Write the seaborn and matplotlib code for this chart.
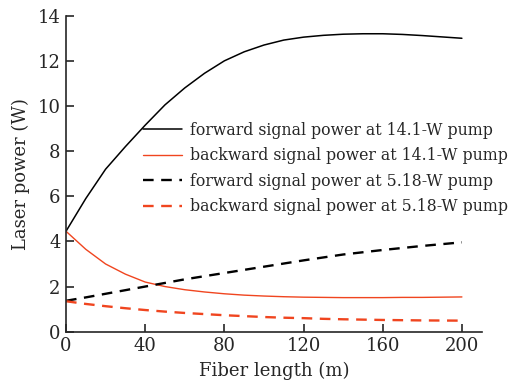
import matplotlib
matplotlib.use("Agg")
import matplotlib.pyplot as plt
import seaborn as sns
import pandas as pd

fiber_length = [0, 10, 20, 30, 40, 50, 60, 70, 80, 90, 100,
                110, 120, 130, 140, 150, 160, 170, 180, 190, 200]
fwd_14 = [4.45, 5.9, 7.2, 8.2, 9.15, 10.05, 10.8, 11.45, 12.0, 12.4, 12.7,
          12.92, 13.05, 13.13, 13.18, 13.2, 13.2, 13.17, 13.12, 13.06, 13.0]
bwd_14 = [4.45, 3.65, 3.0, 2.55, 2.2, 2.0, 1.86, 1.76, 1.68, 1.62, 1.58,
          1.55, 1.53, 1.52, 1.51, 1.51, 1.51, 1.52, 1.52, 1.53, 1.54]
fwd_518 = [1.37, 1.52, 1.68, 1.84, 2.0, 2.16, 2.32, 2.46, 2.6, 2.74, 2.88,
           3.02, 3.16, 3.29, 3.42, 3.52, 3.62, 3.71, 3.8, 3.88, 3.96]
bwd_518 = [1.35, 1.23, 1.13, 1.04, 0.96, 0.89, 0.83, 0.78, 0.73, 0.69, 0.65,
           0.62, 0.6, 0.57, 0.55, 0.535, 0.52, 0.51, 0.5, 0.495, 0.49]
labels = ["forward signal power at 14.1-W pump",
          "backward signal power at 14.1-W pump",
          "forward signal power at 5.18-W pump",
          "backward signal power at 5.18-W pump"]
xticks = [0, 40, 80, 120, 160, 200]
yticks = [0, 2, 4, 6, 8, 10, 12, 14]

sns.set_style("ticks")
plt.rcParams['font.family'] = ['DejaVu Serif']
plt.rcParams['mathtext.fontset'] = 'dejavuserif'

fig = plt.figure(figsize=(5.14, 3.85), dpi=100)
ax = fig.add_axes([66/514, 1-331.7/385, (481.7-66)/514, (331.7-15.7)/385])

red = "#f0451f"
series = [fwd_14, bwd_14, fwd_518, bwd_518]
colors = ["black", red, "black", red]
styles = ["-", "-", (0, (4.5, 3.2)), (0, (4.5, 3.2))]
widths = [1.1, 1.0, 1.7, 1.7]
for vals, lab, c, ls, lw in zip(series, labels, colors, styles, widths):
    df = pd.DataFrame({"x": fiber_length, "y": vals})
    sns.lineplot(data=df, x="x", y="y", ax=ax, color=c, linestyle=ls,
                 linewidth=lw, label=lab)

ax.set_xlim(0, 210)
ax.set_ylim(0, 14)
ax.set_xticks(xticks)
ax.set_yticks(yticks)
ax.tick_params(direction="in", length=6, width=1.2, labelsize=13, pad=4)
for s in ["top", "right"]:
    ax.spines[s].set_visible(False)
for s in ["left", "bottom"]:
    ax.spines[s].set_linewidth(1.2)
ax.set_xlabel("Fiber length (m)", fontsize=13, labelpad=5)
ax.set_ylabel("Laser power (W)", fontsize=13, labelpad=5)

leg = ax.legend(loc="upper left", bbox_to_anchor=(0.185, 0.665), frameon=False,
                fontsize=11.3, handlelength=2.5, handletextpad=0.5,
                labelspacing=0.55, borderpad=0, borderaxespad=0)

fig.savefig("out.png", dpi=100)
